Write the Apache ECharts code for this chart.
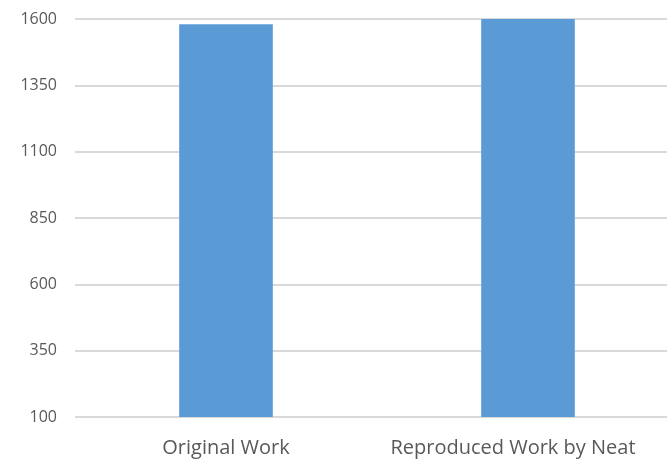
<!DOCTYPE html>
<html>
<head>
<meta charset="utf-8">
<script src="https://cdn.jsdelivr.net/npm/echarts@6/dist/echarts.min.js"></script>
<style>
  html, body { margin: 0; padding: 0; background: #fff; }
  #chart { width: 667px; height: 460px; }
</style>
</head>
<body>
<div id="chart"></div>
<script>
// Category names and bar heights
const categories = ['Original Work', 'Reproduced Work by Neat'];
const values = [1580, 1600];
// Value axis range and step
const yMin = 100;
const yMax = 1600;
const yStep = 250;

// the last label is nudged left so it stays inside the canvas
const categoryData = categories.map((name, i) =>
  i === categories.length - 1
    ? { value: name, textStyle: { padding: [0, 30, 0, 0] } }
    : name
);

const chart = echarts.init(document.getElementById('chart'));
chart.setOption({
  animation: false,
  // plot area runs past the right edge of the canvas
  grid: {
    left: 75, top: 19, width: 604, height: 398,
    containLabel: false,
    outerBoundsMode: 'none'
  },
  xAxis: {
    type: 'category',
    data: categoryData,
    axisLine: { show: false },
    axisTick: { show: false },
    axisLabel: {
      color: '#595959',
      fontFamily: '"Open Sans", sans-serif',
      fontSize: 20,
      margin: 21,
      interval: 0,
      hideOverlap: false
    }
  },
  yAxis: {
    type: 'value',
    min: yMin,
    max: yMax,
    interval: yStep,
    axisLine: { show: false },
    axisTick: { show: false },
    axisLabel: {
      color: '#595959',
      fontFamily: '"Open Sans", sans-serif',
      fontSize: 16,
      margin: 18,
      formatter: v => String(v)
    },
    splitLine: { lineStyle: { color: '#d9d9d9', width: 2 } }
  },
  series: [{
    type: 'bar',
    data: values,
    barWidth: '31%',
    itemStyle: { color: '#5b9bd5' }
  }]
});
</script>
</body>
</html>
